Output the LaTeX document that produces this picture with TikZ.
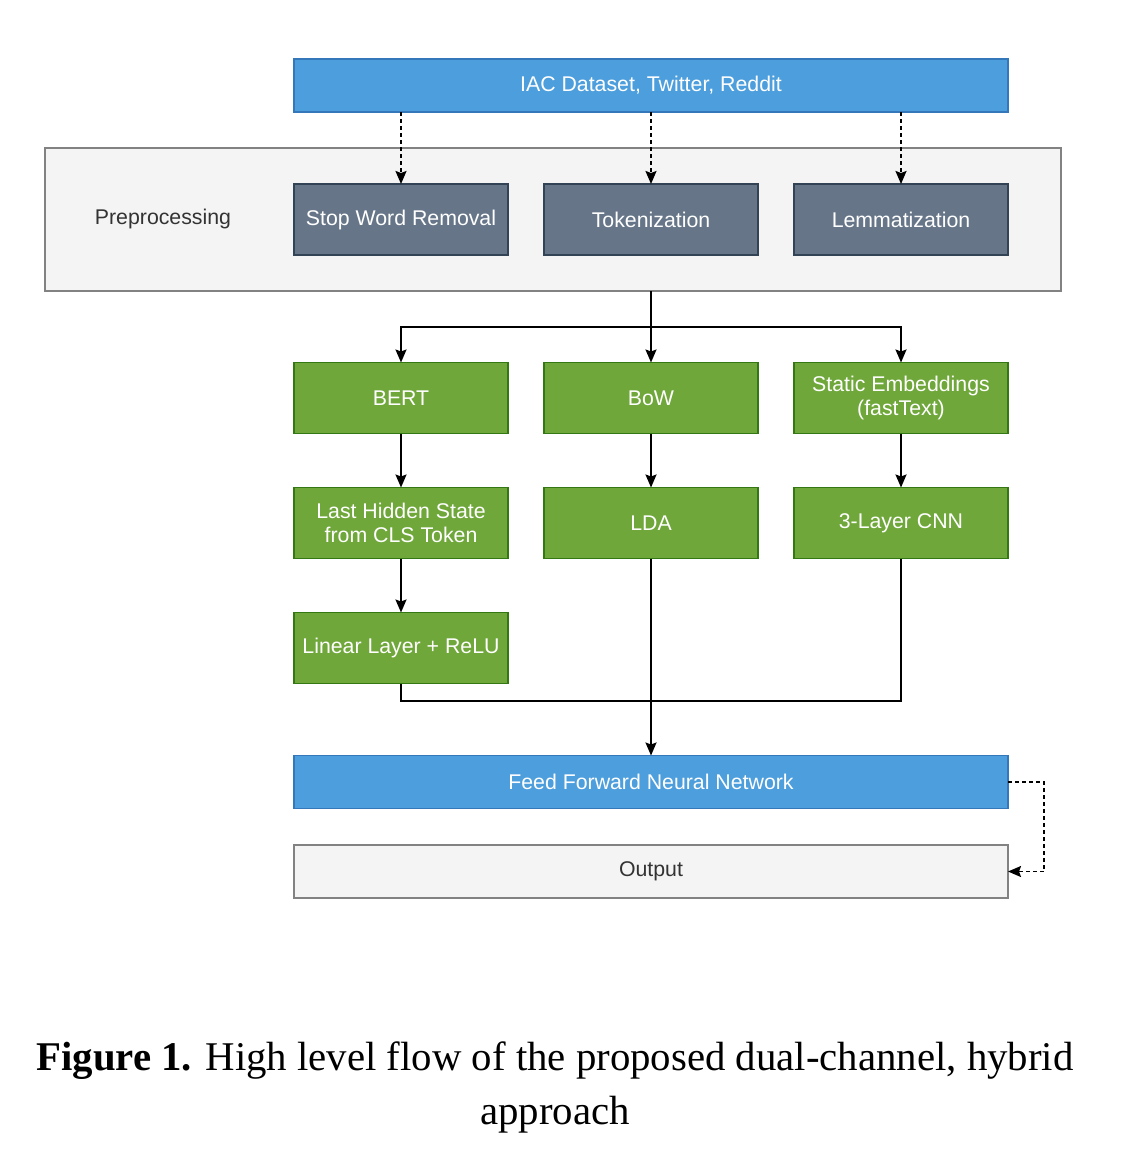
\documentclass[tikz,border=0pt]{standalone}
\usepackage{fontspec}
\setmainfont{Liberation Serif}
\setsansfont{Liberation Sans}
\usetikzlibrary{arrows.meta}
\definecolor{bluefill}{RGB}{77,158,220}
\definecolor{blueline}{RGB}{52,120,185}
\definecolor{slatefill}{RGB}{102,118,136}
\definecolor{slateline}{RGB}{49,67,84}
\definecolor{greenfill}{RGB}{111,167,58}
\definecolor{greenline}{RGB}{52,120,20}
\definecolor{grayfill}{RGB}{244,244,244}
\definecolor{grayline}{RGB}{130,130,130}
\definecolor{graytext}{RGB}{51,51,51}
\tikzset{
  box/.style={draw, line width=1.5pt, inner sep=0pt, outer sep=0pt, align=center,
    font=\sffamily\fontsize{21.3}{24}\selectfont},
  bluebox/.style={box, fill=bluefill, draw=blueline, text=white, minimum width=714pt, minimum height=53pt},
  slatebox/.style={box, fill=slatefill, draw=slateline, text=white, minimum width=214pt, minimum height=71pt},
  greenbox/.style={box, fill=greenfill, draw=greenline, text=white, minimum width=214pt, minimum height=71pt},
  graybox/.style={box, fill=grayfill, draw=grayline, text=graytext},
  conn/.style={line width=1.8pt, draw=black},
  arr/.style={conn, -{Stealth[length=13pt,width=11pt,inset=2pt]}},
  darr/.style={arr, dash pattern=on 4pt off 3pt},
}
\begin{document}
\begin{tikzpicture}[x=1pt,y=-1pt]
\useasboundingbox (0,0) rectangle (1142,1172);
\fill[white] (0,0) rectangle (1142,1172);

\node[bluebox] (iac) at (651,85.5) {IAC Dataset, Twitter, Reddit};

\node[graybox, minimum width=1016pt, minimum height=143pt] (pre) at (553,219.5) {};
\node[font=\sffamily\fontsize{21.3}{24}\selectfont, text=graytext] (prelab) at (163,219) {Preprocessing};

\node[slatebox] (stop) at (401,219.5) {Stop Word Removal};
\node[slatebox] (tok) at (651,219.5) {Tokenization};
\node[slatebox] (lem) at (901,219.5) {Lemmatization};

\node[greenbox] (bert) at (401,398) {BERT};
\node[greenbox] (bow) at (651,398) {BoW};
\node[greenbox] (stat) at (901,398) {Static Embeddings\\(fastText)};

\node[greenbox] (last) at (401,523) {Last Hidden State\\from CLS Token};
\node[greenbox] (lda) at (651,523) {LDA};
\node[greenbox] (cnn) at (901,523) {3-Layer CNN};

\node[greenbox] (lin) at (401,648) {Linear Layer + ReLU};

\node[bluebox] (ffnn) at (651,782) {Feed Forward Neural Network};
\node[graybox, minimum width=714pt, minimum height=53pt] (out) at (651,871.5) {Output};

% dashed arrows from dataset
\draw[darr] (iac.south -| stop.north) -- (stop.north);
\draw[darr] (iac.south -| tok.north) -- (tok.north);
\draw[darr] (iac.south -| lem.north) -- (lem.north);

% split
\coordinate (split) at (651,327);
\draw[conn] (pre.south -| tok.south) -- (split);
\draw[arr] (split) -- (bow.north);
\draw[arr] (split) -| (bert.north);
\draw[arr] (split) -| (stat.north);

% columns
\draw[arr] (bert) -- (last);
\draw[arr] (last) -- (lin);
\draw[arr] (bow) -- (lda);
\draw[arr] (stat) -- (cnn);

% merge
\coordinate (merge) at (651,701);
\draw[conn] (lin.south) |- (merge);
\draw[conn] (cnn.south) |- (merge);
\draw[arr] (lda.south) -- (ffnn.north);

% output
\coordinate (side) at (1044,782);
\draw[darr] (ffnn.east) -- (side) |- (out.east);

% caption
\node[font=\rmfamily\fontsize{40.8}{54}\selectfont, align=center] (cap) at (555,1087)
  {\textbf{Figure 1.} High level flow of the proposed dual-channel, hybrid\\approach};
\end{tikzpicture}
\end{document}
